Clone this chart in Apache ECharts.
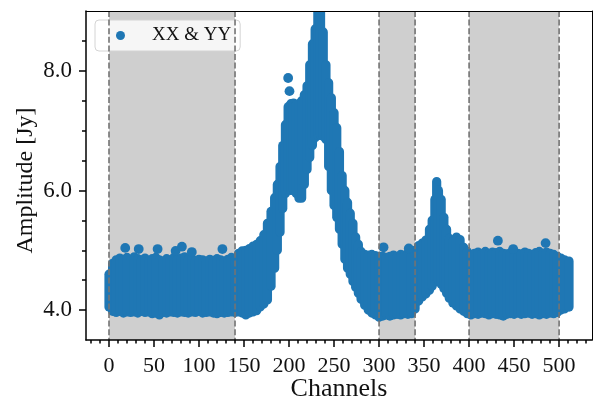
<!DOCTYPE html>
<html>
<head>
<meta charset="utf-8">
<script src="https://cdn.jsdelivr.net/npm/echarts@6/dist/echarts.min.js"></script>
<style>
html,body{margin:0;padding:0;background:#fff;}
#chart{width:594px;height:403px;}
</style>
</head>
<body>
<div id="chart"></div>
<script>
// ---- data ----
const bandChannels = [0,4,8,12,16,20,24,28,32,36,40,44,48,52,56,60,64,68,72,76,80,84,88,92,96,100,104,108,112,116,120,124,128,132,136,140,
144,148,152,156,160,164,168,172,176,180,184,187,190,193,196,199,202,205,208,211,214,217,220,223,226,229,232,235,238,241,244,247,250,253,256,259,262,265,268,271,274,277,280,284,288,292,296,300,304,308,312,316,320,324,328,332,336,340,344,348,352,356,359,362,364,366,369,372,375,378,382,386,390,394,398,
402,406,410,414,418,422,426,430,434,438,442,446,450,454,458,462,466,470,474,478,482,486,490,494,498,502,506,511];
const ampLow = [4.05,3.98,3.96,3.98,3.95,3.97,3.96,3.97,3.95,3.98,3.96,3.97,3.94,3.95,3.92,3.96,3.95,3.97,3.96,3.95,3.97,3.96,3.95,3.97,3.96,3.98,3.95,3.96,3.97,3.95,3.94,3.96,3.95,3.96,3.97,3.96,
3.97,3.95,3.92,3.95,3.97,3.99,4.05,4.10,4.17,4.40,4.70,5.00,5.30,5.70,5.95,6.02,6.00,6.00,5.95,5.87,5.87,6.10,6.35,6.55,6.75,6.88,6.92,6.92,6.90,6.85,6.40,6.00,5.75,5.55,5.35,5.10,4.85,4.70,4.60,4.48,4.38,4.28,4.18,4.08,4.00,3.95,3.92,3.88,3.90,3.92,3.90,3.92,3.93,3.92,3.94,3.93,3.94,4.02,4.15,4.22,4.27,4.33,4.40,4.47,4.52,4.50,4.43,4.36,4.28,4.20,4.12,4.07,4.02,3.98,3.94,
3.92,3.94,3.93,3.95,3.94,3.92,3.94,3.93,3.92,3.90,3.93,3.94,3.93,3.95,3.93,3.94,3.95,3.93,3.94,3.92,3.94,3.93,3.95,3.94,3.96,4.00,4.02,4.05];
const ampHigh = [4.60,4.78,4.84,4.87,4.85,4.88,4.84,4.89,4.86,4.84,4.87,4.83,4.86,4.88,4.84,4.82,4.86,4.84,4.88,4.85,4.87,4.89,4.84,4.86,4.83,4.85,4.84,4.82,4.85,4.83,4.86,4.84,4.82,4.85,4.88,4.84,
4.95,4.99,5.00,5.03,5.07,5.10,5.16,5.26,5.45,5.65,5.88,6.10,6.40,6.75,7.10,7.40,7.45,7.46,7.44,7.45,7.50,7.60,7.75,8.10,8.45,8.70,9.10,9.10,8.65,8.10,7.80,7.55,7.30,7.05,6.65,6.25,6.00,5.80,5.62,5.45,5.22,5.10,4.98,4.93,4.92,4.93,4.91,4.90,4.90,4.88,4.90,4.92,4.90,4.93,4.92,4.95,4.93,5.00,5.08,5.12,5.17,5.35,5.50,5.85,6.15,6.00,5.85,5.55,5.35,5.20,5.15,5.22,5.18,5.05,4.98,
4.92,4.95,4.97,4.94,4.98,4.95,4.97,4.96,4.98,4.95,4.94,4.96,4.98,4.95,4.94,4.97,4.95,4.93,4.96,4.98,4.95,4.97,4.95,4.93,4.90,4.87,4.84,4.82];
const outlierChannels = [18,33,54,74,81,92,126,199,200.5,305,333,432,449,485];
const outlierAmps = [5.04,5.02,5.02,4.99,5.06,4.97,5.02,7.88,7.66,5.05,5.03,5.16,5.02,5.12];
const shadedStart = [0,300,400];
const shadedEnd = [140,340,500];
const dashedChannels = [0,140,300,340,400,500];
const xMajorTicks = [0,50,100,150,200,250,300,350,400,450,500];
const xMinorTicks = [-20,-10,10,20,30,40,60,70,80,90,110,120,130,140,160,170,180,190,210,220,230,240,260,270,280,290,310,320,330,340,360,370,380,390,410,420,430,440,460,470,480,490,510,520,530];
const yMajorTicks = [4,6,8];
const yMinorTicks = [4.5,5,5.5,6.5,7,7.5,8.5];
const seriesName = 'XX & YY';

// ---- chart ----
const FONT = 'Liberation Serif';
const BLUE = '#1f77b4';
const chart = echarts.init(document.getElementById('chart'));
const bandData = bandChannels.map((c,i)=>[c, ampLow[i], ampHigh[i]]);
const outlierData = outlierChannels.map((c,i)=>[c, outlierAmps[i]]);
const shadeData = shadedStart.map((s,i)=>[s, shadedEnd[i]]);
const dashData = dashedChannels.map(c=>[c]);
const R = 4.6;

const xCommon = {type:'value', min:-25.55, max:536.55, splitLine:{show:false}, z:10};
const yCommon = {type:'value', min:3.5, max:9.0, splitLine:{show:false}, z:10};

chart.setOption({
  animation:false,
  textStyle:{fontFamily:FONT},
  grid:{left:86, top:11, right:2, bottom:63, show:false, containLabel:false, outerBoundsMode:'none'},
  legend:{
    left:95, top:20, padding:[6,9,6,21], itemWidth:9, itemHeight:9,
    backgroundColor:'rgba(255,255,255,0.8)', borderColor:'#d4d4d4', borderWidth:1, borderRadius:4,
    textStyle:{fontSize:19, fontFamily:FONT, color:'#111', padding:[0,0,0,22]},
    data:[{name:seriesName, icon:'circle'}]
  },
  xAxis:[
    Object.assign({}, xCommon, {
      position:'bottom', name:'Channels', nameLocation:'middle', nameGap:36, nameMoveOverlap:false,
      nameTextStyle:{fontSize:26, fontFamily:FONT, color:'#111'},
      axisLine:{show:true, onZero:false, lineStyle:{color:'#000', width:1.5}},
      axisTick:{show:true, customValues:xMajorTicks, length:7, lineStyle:{color:'#000', width:1.5}},
      axisLabel:{show:true, customValues:xMajorTicks, fontSize:22, fontFamily:FONT, color:'#111', margin:15}
    }),
    Object.assign({}, xCommon, {
      position:'bottom',
      axisLine:{show:false, onZero:false},
      axisTick:{show:true, customValues:xMinorTicks, length:3.5, lineStyle:{color:'#000', width:1.5}},
      axisLabel:{show:false}
    }),
    Object.assign({}, xCommon, {
      position:'top',
      axisLine:{show:true, onZero:false, lineStyle:{color:'#000', width:1}},
      axisTick:{show:false}, axisLabel:{show:false}
    })
  ],
  yAxis:[
    Object.assign({}, yCommon, {
      position:'left', name:'Amplitude [Jy]', nameLocation:'middle', nameGap:48, nameRotate:90, nameMoveOverlap:false,
      nameTextStyle:{fontSize:24, fontFamily:FONT, color:'#111', padding:[0,10,0,0]},
      axisLine:{show:true, onZero:false, lineStyle:{color:'#000', width:1.5}},
      axisTick:{show:true, customValues:yMajorTicks, length:7, lineStyle:{color:'#000', width:1.5}},
      axisLabel:{show:true, customValues:yMajorTicks, fontSize:23, fontFamily:FONT, color:'#111', margin:14,
        formatter:v=>Number(v).toFixed(1)}
    }),
    Object.assign({}, yCommon, {
      position:'left',
      axisLine:{show:false, onZero:false},
      axisTick:{show:true, customValues:yMinorTicks, length:4, lineStyle:{color:'#000', width:1.5}},
      axisLabel:{show:false}
    }),
    Object.assign({}, yCommon, {
      position:'right',
      axisLine:{show:true, onZero:false, lineStyle:{color:'#000', width:1}},
      axisTick:{show:false}, axisLabel:{show:false}
    })
  ],
  series:[
    {
      name:'shade', type:'custom', xAxisIndex:0, yAxisIndex:0, z:1, silent:true,
      data:shadeData, encode:{x:[0,1]},
      renderItem:function(params, api){
        const cs = params.coordSys;
        const x0 = api.coord([api.value(0), 5])[0];
        const x1 = api.coord([api.value(1), 5])[0];
        return {type:'rect', shape:{x:x0, y:cs.y, width:x1-x0, height:cs.height}, style:{fill:'#cfcfcf'}};
      }
    },
    {
      name:seriesName, type:'custom', xAxisIndex:0, yAxisIndex:0, z:2, silent:true, clip:true,
      data:bandData, encode:{x:0, y:[1,2]},
      itemStyle:{color:BLUE},
      renderItem:function(params, api){
        const pt = api.coord([api.value(0), api.value(2)]);
        const pb = api.coord([api.value(0), api.value(1)]);
        return {type:'rect', shape:{x:pt[0]-R, y:pt[1]-R, width:2*R, height:pb[1]-pt[1]+2*R, r:R}, style:{fill:BLUE}};
      }
    },
    {
      name:seriesName, type:'scatter', xAxisIndex:0, yAxisIndex:0, z:3, silent:true,
      data:outlierData, symbol:'circle', symbolSize:2*R+0.6, itemStyle:{color:BLUE, opacity:1}
    },
    {
      name:'edges', type:'custom', xAxisIndex:0, yAxisIndex:0, z:5, silent:true,
      data:dashData, encode:{x:0},
      renderItem:function(params, api){
        const cs = params.coordSys;
        const x = api.coord([api.value(0), 5])[0];
        return {type:'line', shape:{x1:x, y1:cs.y, x2:x, y2:cs.y+cs.height},
          style:{stroke:'#737373', lineWidth:1.6, lineDash:[6,2.6]}};
      }
    }
  ]
});
</script>
</body>
</html>
